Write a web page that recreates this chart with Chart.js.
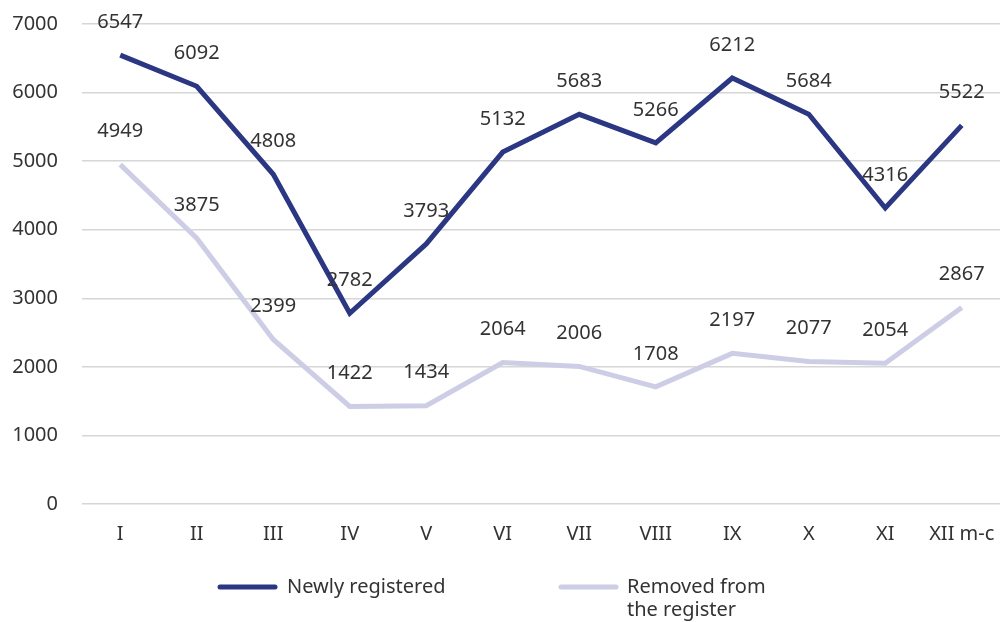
<!DOCTYPE html>
<html>
<head>
<meta charset="utf-8">
<script src="https://cdn.jsdelivr.net/npm/chart.js@4/dist/chart.umd.min.js"></script>
<style>
html,body{margin:0;padding:0;background:#fff;}
#wrap{width:1003px;height:622px;position:relative;}
</style>
</head>
<body>
<div id="wrap"><canvas id="c" width="1003" height="622"></canvas></div>
<script>
const categories = ["I","II","III","IV","V","VI","VII","VIII","IX","X","XI","XII m-c"];
const newlyRegistered = [6547,6092,4808,2782,3793,5132,5683,5266,6212,5684,4316,5522];
const removedFromRegister = [4949,3875,2399,1422,1434,2064,2006,1708,2197,2077,2054,2867];
const seriesNames = ["Newly registered", ["Removed from","the register"]];
const yTicks = [0,1000,2000,3000,4000,5000,6000,7000];

const FONT = "'Noto Sans', 'Open Sans', sans-serif";
const DARK = "#2b3783";
const LIGHT = "#cdcde6";

const labelPlugin = {
  id: 'valueLabels',
  afterDatasetsDraw(chart) {
    const ctx = chart.ctx;
    ctx.save();
    ctx.font = "20px " + FONT;
    ctx.fillStyle = "#333";
    ctx.textAlign = "center";
    ctx.textBaseline = "middle";
    chart.data.datasets.forEach((ds, i) => {
      const meta = chart.getDatasetMeta(i);
      meta.data.forEach((pt, j) => {
        ctx.fillText(String(ds.data[j]), pt.x, pt.y - 33);
      });
    });
    ctx.restore();
  }
};

const legendPlugin = {
  id: 'customLegend',
  afterDraw(chart) {
    const ctx = chart.ctx;
    ctx.save();
    const items = [
      {x1:220, x2:275, tx:287, color:DARK, text:seriesNames[0]},
      {x1:561, x2:616, tx:627, color:LIGHT, text:seriesNames[1]}
    ];
    const y = 587;
    items.forEach(it => {
      ctx.strokeStyle = it.color;
      ctx.lineWidth = 5;
      ctx.lineCap = "round";
      ctx.beginPath();
      ctx.moveTo(it.x1, y);
      ctx.lineTo(it.x2, y);
      ctx.stroke();
      ctx.font = "20px " + FONT;
      ctx.fillStyle = "#333";
      ctx.textAlign = "left";
      ctx.textBaseline = "middle";
      const lines = Array.isArray(it.text) ? it.text : [it.text];
      lines.forEach((l, k) => ctx.fillText(l, it.tx, y + k * 23));
    });
    ctx.restore();
  }
};

new Chart(document.getElementById('c'), {
  type: 'line',
  data: {
    labels: categories,
    datasets: [
      {label: "Newly registered", data: newlyRegistered, borderColor: DARK, borderWidth: 5, pointRadius: 0, tension: 0, fill: false},
      {label: "Removed from the register", data: removedFromRegister, borderColor: LIGHT, borderWidth: 5, pointRadius: 0, tension: 0, fill: false}
    ]
  },
  options: {
    responsive: false,
    animation: false,
    layout: {padding: {top: 24, right: 3, left: 0, bottom: 0}},
    plugins: {legend: {display: false}, tooltip: {enabled: false}},
    scales: {
      x: {
        offset: true,
        grid: {display: false, drawTicks: false},
        border: {display: false},
        ticks: {color: "#333", font: {family: FONT, size: 20}, padding: 18, maxRotation: 0, autoSkip: false},
        afterFit(s) { s.height = 118; s.paddingLeft = 0; s.paddingRight = 0; s.paddingTop = 0; s.paddingBottom = 0; }
      },
      y: {
        min: 0, max: 7000,
        afterBuildTicks(s) { s.ticks = yTicks.map(v => ({value: v})); },
        grid: {color: "#d6d6d6", lineWidth: 1.5, drawTicks: false},
        border: {display: false},
        ticks: {color: "#333", font: {family: FONT, size: 20}, padding: 24, callback: v => String(v)},
        afterFit(s) { s.width = 82; s.paddingLeft = 0; s.paddingRight = 0; s.paddingTop = 0; s.paddingBottom = 0; }
      }
    }
  },
  plugins: [labelPlugin, legendPlugin]
});
</script>
</body>
</html>
